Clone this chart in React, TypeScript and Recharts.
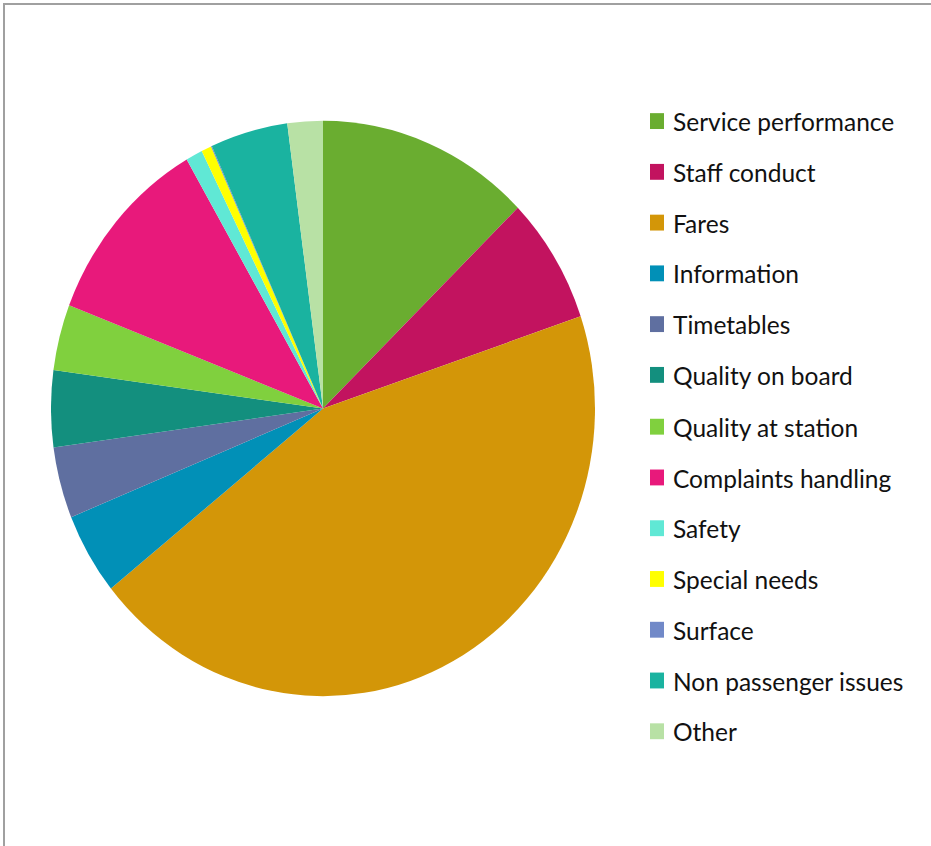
import React from "react";
import { PieChart, Pie, Cell, Legend } from "recharts";

const categories = [
  "Service performance",
  "Staff conduct",
  "Fares",
  "Information",
  "Timetables",
  "Quality on board",
  "Quality at station",
  "Complaints handling",
  "Safety",
  "Special needs",
  "Surface",
  "Non passenger issues",
  "Other",
];

// share of complaints, %
const shares = [12.7, 7.1, 44.4, 4.6, 4.0, 4.3, 3.7, 10.8, 1.0, 0.6, 0.05, 4.6, 2.1];

const colors = [
  "#6aad30",
  "#c2135f",
  "#d39608",
  "#0190b7",
  "#5f6fa0",
  "#138f7e",
  "#80d03e",
  "#e8197b",
  "#60e8d5",
  "#ffff00",
  "#7189c8",
  "#1ab3a0",
  "#b8e1a5",
];

const data = categories.map((name, i) => ({ name, value: shares[i] }));

// the reference pie is slightly taller than wide
const STRETCH = 846 / 800;

// keep the legend in data order (recharts sorts it by name otherwise)
function LegendList() {
  return (
    <ul style={{ listStyle: "none", margin: 0, padding: 0 }}>
      {categories.map((name, i) => (
        <li
          key={name}
          style={{ height: 48.1, display: "flex", alignItems: "center" }}
        >
          <span
            style={{
              display: "inline-block",
              width: 14,
              height: 15,
              background: colors[i],
              marginRight: 9,
            }}
          />
          <span style={{ color: "#111", fontSize: 24.5, fontFamily: "Lato" }}>{name}</span>
        </li>
      ))}
    </ul>
  );
}

export default function App() {
  return (
    <div
      style={{
        position: "absolute",
        left: 0,
        top: 0,
        width: 931,
        height: 846,
        overflow: "hidden",
        background: "#fff",
      }}
    >
      <div
        style={{
          position: "absolute",
          left: 3,
          top: 3,
          width: 960,
          height: 900,
          borderLeft: "2px solid #a0a0a0",
          borderTop: "2px solid #a0a0a0",
        }}
      />
      <div
        style={{
          position: "absolute",
          left: 0,
          top: 0,
          transform: `scaleY(${STRETCH})`,
          transformOrigin: "0 0",
        }}
      >
        <PieChart width={931} height={800} margin={{ top: 0, right: 0, bottom: 0, left: 0 }}>
          <Pie
            data={data}
            dataKey="value"
            nameKey="name"
            cx={323}
            cy={386.3}
            outerRadius={272}
            startAngle={90}
            endAngle={-270}
            stroke="none"
            legendType="square"
            isAnimationActive={false}
          >
            {data.map((d, i) => (
              <Cell key={d.name} fill={colors[i]} />
            ))}
          </Pie>
          <Legend
            layout="vertical"
            align="right"
            verticalAlign="top"
            content={<LegendList />}
            wrapperStyle={{ left: 650, top: 90.4, width: 280 }}
          />
        </PieChart>
      </div>
    </div>
  );
}
